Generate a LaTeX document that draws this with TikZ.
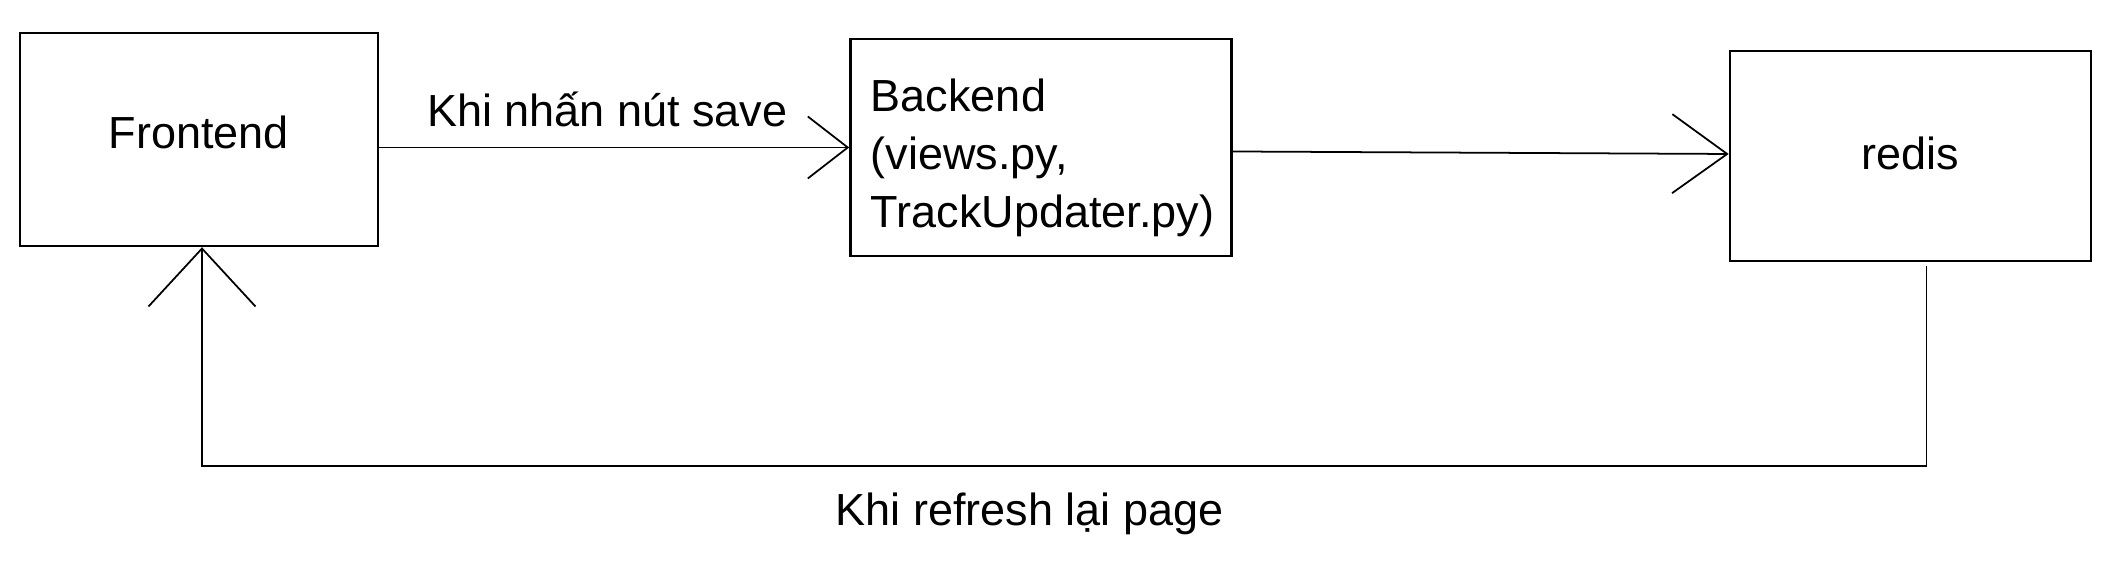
\documentclass[tikz,border=0pt]{standalone}
\usepackage{fontspec}
\setmainfont{Liberation Sans}
\usetikzlibrary{positioning,arrows.meta}

\begin{document}
\begin{tikzpicture}[
  font=\fontsize{12.8}{16.5}\selectfont,
  box/.style={rectangle, draw, line width=0.7pt, inner sep=0.19cm},
  arrow/.style 2 args={-{Straight Barb[length=#1, width=#2]}, line width=0.5pt}
]
\useasboundingbox (0,0) rectangle (21.16,5.70);

% Nodes
\node[box, minimum width=3.58cm, minimum height=2.13cm] (fe) at (1.99,4.305) {\raisebox{0.14cm}{Frontend}};
\node[box, minimum width=3.81cm, minimum height=2.17cm, text width=3.4cm, align=left, right=4.70cm of fe, yshift=-0.08cm] (be) {\rule{0pt}{0.53cm}Backend\\(views.py,\\TrackUpdater.py)};
\node[box, minimum width=3.61cm, minimum height=2.10cm, right=4.96cm of be, yshift=-0.085cm] (rd) {\raisebox{0.05cm}{redis}};
\coordinate (bend) at (2.02,1.04);

% Arrows
\draw[arrow={0.4cm}{0.62cm}] (fe.east |- be.west) -- (be.west) node[midway, above=0.08cm, xshift=-0.07cm] (save) {Khi nhấn nút save};
\draw[arrow={0.55cm}{0.79cm}] ([yshift=-0.04cm]be.east) -- ([yshift=0.02cm]rd.west);
\draw[arrow={0.58cm}{1.07cm}] ([xshift=0.16cm, yshift=-0.04cm]rd.south) |- (bend) node[pos=0.76, anchor=base, yshift=-0.60cm] (refresh) {Khi refresh lại page} -- (bend |- fe.south);

\end{tikzpicture}
\end{document}
